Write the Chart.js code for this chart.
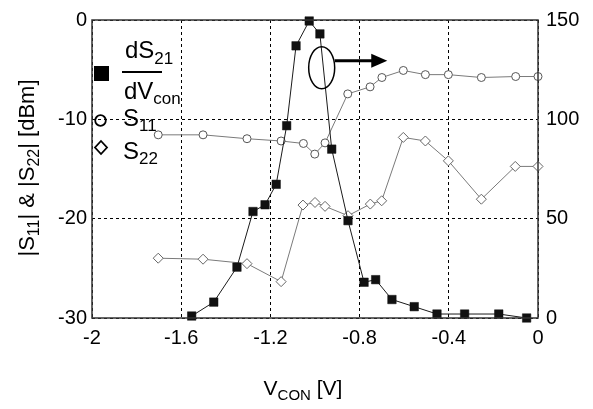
<!DOCTYPE html>
<html>
<head>
<meta charset="utf-8">
<script src="https://cdn.jsdelivr.net/npm/chart.js@4/dist/chart.umd.min.js"></script>
<style>
  html, body { margin: 0; padding: 0; background: #fff; }
  #wrap { width: 593px; height: 409px; position: relative; }
</style>
</head>
<body>
<div id="wrap"><canvas id="c" width="593" height="409"></canvas></div>
<script>
// ---- Data ----
const vS21  = [-1.553, -1.454, -1.350, -1.278, -1.224, -1.174, -1.127, -1.085, -1.026, -0.978, -0.925, -0.852, -0.780, -0.728, -0.655, -0.555, -0.453, -0.329, -0.176, -0.051];
const dS21  = [1, 8, 25.6, 53.6, 57, 67.3, 96.8, 137, 149.5, 143, 85, 49, 18, 19.3, 9.3, 5.7, 2, 2, 2, 0];

const vS11  = [-1.703, -1.502, -1.305, -1.152, -1.052, -1.001, -0.955, -0.853, -0.753, -0.700, -0.604, -0.505, -0.402, -0.254, -0.100, 0];
const s11   = [-11.56, -11.56, -11.95, -12.18, -12.43, -13.5, -12.37, -7.44, -6.73, -5.79, -5.08, -5.5, -5.5, -5.79, -5.69, -5.69];

const vS22  = [-1.703, -1.502, -1.305, -1.152, -1.054, -1.000, -0.955, -0.852, -0.752, -0.701, -0.604, -0.505, -0.402, -0.254, -0.102, 0];
const s22   = [-23.98, -24.08, -24.53, -26.34, -18.63, -18.37, -18.76, -19.7, -18.53, -18.2, -11.82, -12.18, -14.18, -18.04, -14.74, -14.74];

const xTicks  = [-2, -1.6, -1.2, -0.8, -0.4, 0];
const yTicks  = [-30, -20, -10, 0];
const y2Ticks = [0, 50, 100, 150];

const FONT = "'Liberation Sans', Arial, sans-serif";

function pts(xs, ys) { return xs.map((x, i) => ({ x: x, y: ys[i] })); }

// draw text made of [string, isSubscript] parts
function drawParts(ctx, parts, x, y, size, subSize, subDrop) {
  let cx = x;
  parts.forEach(([t, sub]) => {
    ctx.font = (sub ? subSize : size) + "px " + FONT;
    ctx.fillText(t, cx, sub ? y + subDrop : y);
    cx += ctx.measureText(t).width;
  });
  return cx - x;
}
function measureParts(ctx, parts, size, subSize) {
  let w = 0;
  parts.forEach(([t, sub]) => {
    ctx.font = (sub ? subSize : size) + "px " + FONT;
    w += ctx.measureText(t).width;
  });
  return w;
}

const decor = {
  id: 'decor',
  afterDraw(chart) {
    const ctx = chart.ctx;
    const a = chart.chartArea;
    const xs = chart.scales.x, y2 = chart.scales.y2;
    ctx.save();
    // frame
    ctx.strokeStyle = '#333';
    ctx.lineWidth = 1.5;
    ctx.strokeRect(a.left, a.top, a.right - a.left, a.bottom - a.top);

    ctx.fillStyle = '#000';
    ctx.strokeStyle = '#000';
    ctx.textBaseline = 'alphabetic';
    ctx.textAlign = 'left';

    // legend
    const lx = a.left;
    ctx.fillRect(lx + 2, a.top + 46, 15, 15);
    drawParts(ctx, [['dS', false], ['21', true]], lx + 33, a.top + 38, 24, 17, 6);
    ctx.lineWidth = 2;
    ctx.beginPath(); ctx.moveTo(lx + 30, a.top + 52); ctx.lineTo(lx + 70, a.top + 52); ctx.stroke();
    drawParts(ctx, [['dV', false], ['con', true]], lx + 32, a.top + 79, 24, 17, 5);

    ctx.lineWidth = 1.8;
    ctx.beginPath(); ctx.arc(lx + 8.5, a.top + 100.5, 5.3, 0, Math.PI * 2); ctx.stroke();
    drawParts(ctx, [['S', false], ['11', true]], lx + 31, a.top + 106, 24, 17, 5);

    ctx.beginPath();
    ctx.moveTo(lx + 9, a.top + 121); ctx.lineTo(lx + 15, a.top + 127.5);
    ctx.lineTo(lx + 9, a.top + 134); ctx.lineTo(lx + 3, a.top + 127.5); ctx.closePath(); ctx.stroke();
    drawParts(ctx, [['S', false], ['22', true]], lx + 31, a.top + 139, 24, 17, 5);

    // annotation: ellipse + arrow pointing to right axis
    const ex = xs.getPixelForValue(-0.97), ey = y2.getPixelForValue(126);
    ctx.lineWidth = 1.5;
    ctx.beginPath(); ctx.ellipse(ex, ey, 13, 21, 0, 0, Math.PI * 2); ctx.stroke();
    const ay = y2.getPixelForValue(129.5);
    const axEnd = xs.getPixelForValue(-0.676);
    ctx.lineWidth = 3;
    ctx.beginPath(); ctx.moveTo(ex + 13, ay); ctx.lineTo(axEnd - 12, ay); ctx.stroke();
    ctx.beginPath(); ctx.moveTo(axEnd, ay); ctx.lineTo(axEnd - 16, ay - 7); ctx.lineTo(axEnd - 16, ay + 7); ctx.closePath(); ctx.fill();

    // x axis title
    const xp = [['V', false], ['CON', true], [' [V]', false]];
    const xw = measureParts(ctx, xp, 21, 15);
    drawParts(ctx, xp, 303 - xw / 2, 395, 21, 15, 5);

    // y axis title (rotated)
    ctx.save();
    ctx.translate(34, 168);
    ctx.rotate(-Math.PI / 2);
    const yp = [['|S', false], ['11', true], ['| & |S', false], ['22', true], ['| [dBm]', false]];
    const yw = measureParts(ctx, yp, 22, 16);
    drawParts(ctx, yp, -yw / 2, 0, 22, 16, 5);
    ctx.restore();

    ctx.restore();
  }
};

new Chart(document.getElementById('c'), {
  type: 'scatter',
  data: {
    datasets: [
      {
        label: 'dS21/dVcon',
        data: pts(vS21, dS21),
        yAxisID: 'y2',
        showLine: true,
        borderColor: '#1a1a1a',
        borderWidth: 1,
        pointStyle: 'rect',
        pointRadius: 6,
        pointHoverRadius: 6,
        pointBackgroundColor: '#111',
        pointBorderColor: '#111',
        pointBorderWidth: 0.5,
        clip: false,
        order: 0
      },
      {
        label: 'S11',
        data: pts(vS11, s11),
        yAxisID: 'y',
        showLine: true,
        borderColor: '#7a7a7a',
        borderWidth: 1,
        pointStyle: 'circle',
        pointRadius: 4,
        pointHoverRadius: 4,
        pointBackgroundColor: '#fff',
        pointBorderColor: '#555',
        pointBorderWidth: 1,
        clip: false,
        order: 1
      },
      {
        label: 'S22',
        data: pts(vS22, s22),
        yAxisID: 'y',
        showLine: true,
        borderColor: '#7a7a7a',
        borderWidth: 1,
        pointStyle: 'rectRot',
        pointRadius: 5,
        pointHoverRadius: 5,
        pointBackgroundColor: '#fff',
        pointBorderColor: '#666',
        pointBorderWidth: 1,
        clip: false,
        order: 2
      }
    ]
  },
  options: {
    responsive: false,
    animation: false,
    devicePixelRatio: 1,
    layout: { padding: { top: 9.5, left: 0, right: 0, bottom: 0 } },
    plugins: { legend: { display: false }, tooltip: { enabled: false } },
    scales: {
      x: {
        type: 'linear',
        min: -2, max: 0,
        afterBuildTicks: s => { s.ticks = xTicks.map(v => ({ value: v })); },
        afterFit: s => { s.height = 91; },
        ticks: {
          color: '#000', font: { family: FONT, size: 20 }, padding: 8,
          maxRotation: 0, autoSkip: false,
          callback: v => String(v)
        },
        grid: { color: '#000', lineWidth: 1, drawTicks: false },
        border: { display: false, dash: [3, 3] }
      },
      y: {
        type: 'linear',
        position: 'left',
        min: -30, max: 0,
        afterBuildTicks: s => { s.ticks = yTicks.map(v => ({ value: v })); },
        afterFit: s => { s.width = 92; },
        ticks: { color: '#000', font: { family: FONT, size: 20 }, padding: 5, callback: v => String(v) },
        grid: { color: '#000', lineWidth: 1, drawTicks: false },
        border: { display: false, dash: [3, 3] }
      },
      y2: {
        type: 'linear',
        position: 'right',
        min: 0, max: 150,
        afterBuildTicks: s => { s.ticks = y2Ticks.map(v => ({ value: v })); },
        afterFit: s => { s.width = 55; },
        ticks: { color: '#000', font: { family: FONT, size: 20 }, padding: 8, callback: v => String(v) },
        grid: { display: false, drawTicks: false },
        border: { display: false }
      }
    }
  },
  plugins: [decor]
});
</script>
</body>
</html>
